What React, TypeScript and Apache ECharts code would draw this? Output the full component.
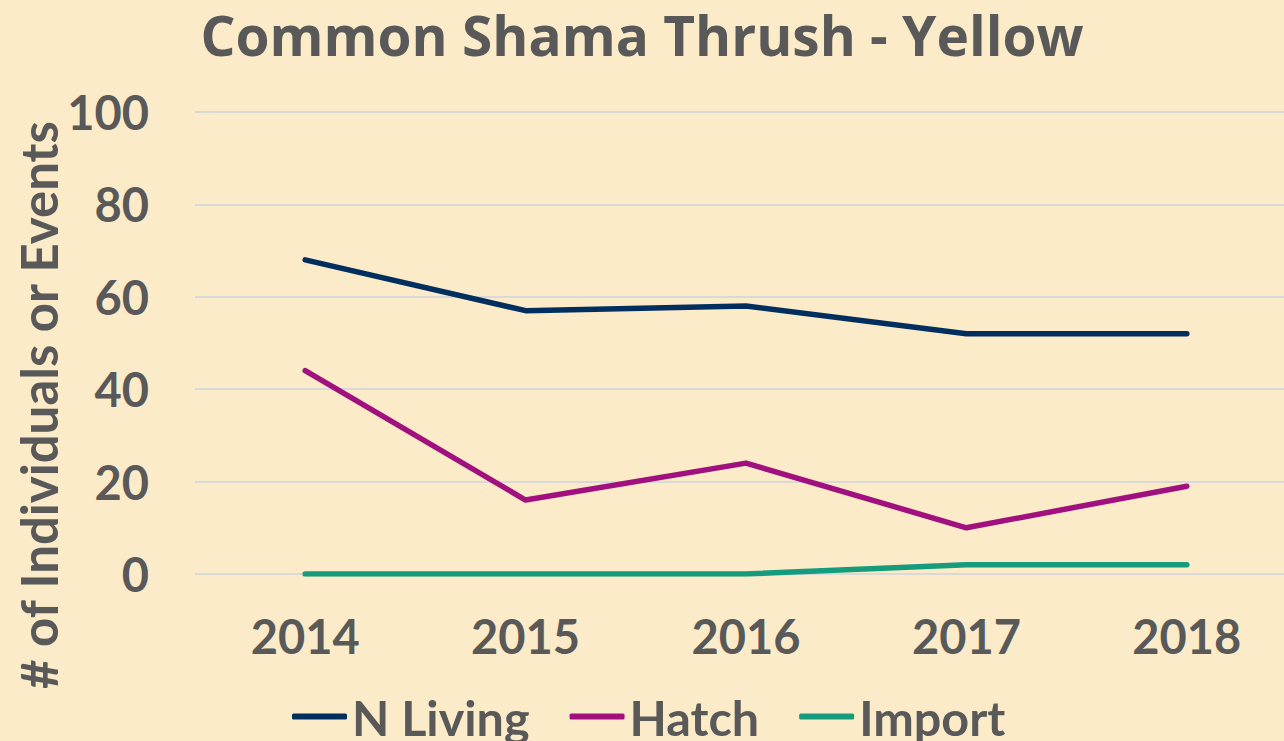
import React, { useEffect, useRef } from "react";
import * as echarts from "echarts";

const categories = ["2014", "2015", "2016", "2017", "2018"];
const nLiving = [68, 57, 58, 52, 52];
const hatch = [44, 16, 24, 10, 19];
const importVals = [0, 0, 0, 2, 2];
const yTicks = { min: 0, max: 100, interval: 20 };

const FONT = "Lato";
const TEXT = "#595959";

export default function App() {
  const ref = useRef<HTMLDivElement>(null);
  useEffect(() => {
    if (!ref.current) return;
    const chart = echarts.init(ref.current, undefined, { renderer: "svg" });
    const mkSeries = (name: string, data: number[], color: string) => ({
      name,
      type: "line",
      data,
      symbol: "none",
      lineStyle: { color, width: 5.5, cap: "round", join: "round" },
      itemStyle: { color },
    });
    chart.setOption({
      animation: false,
      backgroundColor: "#FCEBC8",
      title: {
        text: "Common Shama Thrush - Yellow",
        left: "center",
        top: 2,
        textStyle: { fontFamily: "Open Sans", fontWeight: "bold", fontSize: 55, color: TEXT },
      },
      grid: {
        left: 195,
        right: -13,
        top: 112,
        bottom: 741 - 574,
        containLabel: false,
        outerBoundsMode: "none",
      },
      legend: {
        left: 287,
        top: 687,
        itemGap: 40,
        itemWidth: 55,
        itemHeight: 6,
        icon: "roundRect",
        textStyle: { fontFamily: FONT, fontWeight: "bold", fontSize: 48.5, color: TEXT },
        data: ["N Living", "Hatch", "Import"],
      },
      xAxis: {
        type: "category",
        data: categories,
        boundaryGap: true,
        axisLine: { show: false },
        axisTick: { show: false },
        axisLabel: { fontFamily: FONT, fontWeight: "bold", fontSize: 47, color: TEXT, margin: 38 },
      },
      yAxis: {
        type: "value",
        min: yTicks.min,
        max: yTicks.max,
        interval: yTicks.interval,
        axisLine: { show: false },
        axisTick: { show: false },
        splitLine: { lineStyle: { color: "#D9D9D9", width: 2 } },
        axisLabel: { fontFamily: FONT, fontWeight: "bold", fontSize: 47, color: TEXT, margin: 46 },
      },
      graphic: [
        {
          type: "text",
          x: 38,
          y: 405,
          rotation: Math.PI / 2,
          style: {
            text: "# of Individuals or Events",
            fontFamily: FONT,
            fontWeight: "bold",
            fontSize: 51,
            fill: TEXT,
            align: "center",
            verticalAlign: "middle",
          },
        },
      ],
      series: [
        mkSeries("N Living", nLiving, "#002F5F"),
        mkSeries("Hatch", hatch, "#A0117F"),
        mkSeries("Import", importVals, "#149C7C"),
      ],
    });
    return () => chart.dispose();
  }, []);
  return <div ref={ref} style={{ position: "fixed", left: 0, top: 0, width: 1284, height: 741 }} />;
}
